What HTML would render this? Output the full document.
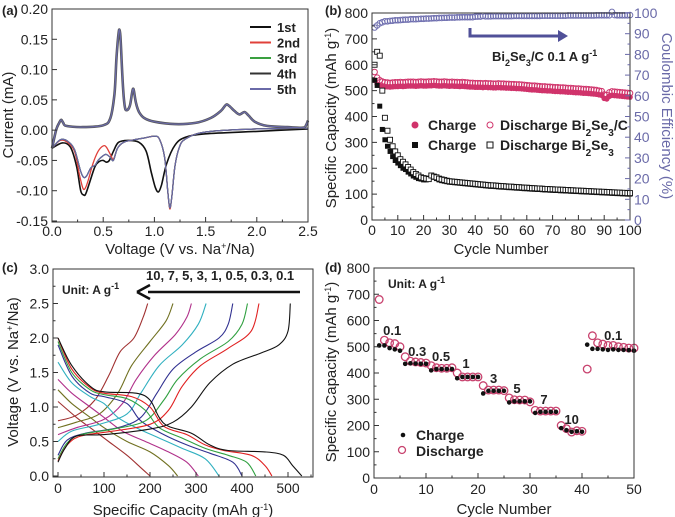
<!DOCTYPE html>
<html><head><meta charset="utf-8"><style>
body{margin:0;background:#fff}
svg{display:block;font-family:"Liberation Sans",Arial,sans-serif}
</style></head><body>
<svg id="fig" width="675" height="517" viewBox="0 0 675 517" xmlns="http://www.w3.org/2000/svg">
<g id="pa"></g>
<g id="pb"></g>
<g id="pc"></g>
<g id="pd"></g>
</svg>
<script>
// ---------- Panel a data ----------
const aAnodicV=[0,0.04,0.07,0.09,0.11,0.14,0.3,0.5,0.57,0.61,0.63,0.65,0.66,0.67,0.69,0.71,0.73,0.76,0.78,0.79,0.8,0.82,0.85,0.9,1.0,1.2,1.4,1.55,1.65,1.7,1.73,1.78,1.83,1.88,1.92,1.98,2.1,2.3,2.45,2.48,2.5];
const aAnodicI=[-0.03,0.0,0.012,0.017,0.012,0.007,0.005,0.008,0.02,0.06,0.12,0.16,0.165,0.15,0.08,0.04,0.033,0.04,0.06,0.068,0.065,0.045,0.03,0.02,0.014,0.01,0.012,0.02,0.032,0.042,0.04,0.032,0.026,0.03,0.024,0.014,0.007,0.005,0.004,0.008,0.016];
const aCath1V=[2.5,2.0,1.5,1.3,1.2,1.12,1.07,1.04,1.01,0.97,0.92,0.85,0.75,0.65,0.6,0.56,0.53,0.5,0.46,0.42,0.37,0.33,0.31,0.28,0.24,0.18,0.1,0];
const aCath1I=[0.002,-0.002,-0.006,-0.012,-0.025,-0.055,-0.09,-0.102,-0.095,-0.07,-0.035,-0.02,-0.017,-0.02,-0.035,-0.05,-0.053,-0.05,-0.052,-0.06,-0.085,-0.105,-0.107,-0.1,-0.06,-0.028,-0.021,-0.03];
const aCath2V=[2.5,2.0,1.5,1.3,1.24,1.2,1.17,1.15,1.13,1.1,1.05,1.0,0.9,0.8,0.7,0.64,0.6,0.57,0.53,0.5,0.45,0.4,0.35,0.32,0.3,0.27,0.22,0.15,0.08,0];
const aCath2I=[0.003,0.002,-0.003,-0.015,-0.03,-0.06,-0.11,-0.13,-0.1,-0.045,-0.015,-0.01,-0.013,-0.016,-0.02,-0.03,-0.048,-0.04,-0.028,-0.026,-0.035,-0.055,-0.085,-0.097,-0.095,-0.075,-0.035,-0.02,-0.017,-0.03];
const aCath5V=[2.5,2.0,1.5,1.3,1.24,1.2,1.17,1.15,1.13,1.1,1.05,1.0,0.9,0.8,0.7,0.64,0.6,0.57,0.53,0.5,0.45,0.42,0.38,0.34,0.31,0.28,0.22,0.15,0.08,0];
const aCath5I=[0.003,0.002,-0.003,-0.015,-0.03,-0.06,-0.11,-0.128,-0.1,-0.045,-0.015,-0.01,-0.013,-0.016,-0.02,-0.03,-0.05,-0.045,-0.04,-0.042,-0.05,-0.058,-0.062,-0.075,-0.078,-0.068,-0.032,-0.018,-0.016,-0.03];
const aLegend=["1st","2nd","3rd","4th","5th"];
const aColors=["#111","#e0403a","#3aa040","#333","#6a6aa8"];

// ---------- Panel b data ----------
const bCCharge=[540,525,520,518,515,515,514,515,516,516,517,516,517,518,518,518,517,518,519,518,518,519,519,520,519,518,518,519,518,517,518,517,517,516,517,516,515,514,514,513,513,513,512,513,512,512,511,511,512,511,511,510,510,509,509,508,508,507,506,505,504,503,503,502,501,500,500,499,499,498,497,497,496,496,495,494,494,493,492,492,491,490,490,489,488,487,486,484,482,470,468,478,482,481,480,479,478,477,476,475];
const bCDis=[572,550,540,535,532,531,530,531,532,532,533,532,533,534,534,534,533,534,535,534,534,535,535,536,535,534,534,535,534,533,534,533,533,532,533,532,531,530,530,529,529,529,528,529,528,528,527,527,528,527,527,526,526,525,525,524,524,523,522,521,520,519,519,518,517,516,516,515,515,514,513,513,512,512,511,510,510,509,508,508,507,506,506,505,504,503,502,500,498,485,483,493,497,496,495,494,493,492,491,490];
const bEff=[93,94,95,95.5,96,96,96.2,96.3,96.5,96.5,96.6,96.7,96.8,96.8,97,97,97,97.1,97.2,97.2,97.3,97.3,97.4,97.5,97.5,97.6,97.6,97.7,97.7,97.8,97.8,97.8,97.9,97.9,98,98,98,98,98,98.2,98.3,98.3,98.6,98.4,98.4,98.4,98.5,98.5,98.5,98.5,98.5,98.5,98.5,98.5,98.6,98.6,98.6,98.6,98.6,98.6,98.6,98.6,98.6,98.6,98.6,98.7,98.7,98.7,98.7,98.7,98.7,98.7,98.7,98.7,98.7,98.8,98.8,98.8,98.8,98.8,98.8,98.8,98.8,98.8,98.8,98.8,98.9,98.9,98.9,98.9,98.9,98.9,100.5,99,98.9,98.9,98.9,98.9,98.9,99];
const bBCharge=[540,520,440,350,310,285,265,245,230,220,210,200,195,185,178,170,165,160,158,155,155,160,168,165,160,155,152,150,148,146,145,144,143,142,141,140,139,138,137,136,135,134,133,132,131,130,130,129,128,127,127,126,125,125,124,123,123,122,121,121,120,119,119,118,118,117,116,116,115,115,114,114,113,113,112,112,111,111,110,110,109,109,108,108,107,107,106,106,105,105,104,104,103,103,102,102,101,101,100,100];
const bBDis=[600,650,635,500,395,345,310,285,265,250,235,225,215,205,195,185,178,172,165,162,160,158,172,168,165,160,157,155,152,150,149,148,147,146,145,144,143,142,141,140,139,138,137,136,135,134,134,133,132,131,131,130,129,129,128,127,127,126,125,125,124,123,123,122,122,121,120,120,119,119,118,118,117,117,116,116,115,115,114,114,113,113,112,112,111,111,110,110,109,109,108,108,107,107,106,106,105,105,104,104];

// ---------- Panel c data ----------
const cColors=["#111","#e02020","#30a040","#303090","#30b0c0","#b0308a","#707020","#a03030"];
const cDisCap=[[0,30,70,100,170,200,220,240,290,330,370,450,490,510,530],[0,30,70,100,160,200,230,280,320,360,420,450,465],[0,30,70,100,150,190,220,270,320,370,410,430],[0,30,70,100,150,180,230,280,330,380,400],[0,30,70,100,130,170,220,270,320,350],[0,30,70,100,140,190,240,280,305],[0,30,70,100,150,200,240,260],[0,40,80,110,150,180,200]];
const cDisV=[[2.0,1.6,1.3,1.22,1.2,1.1,0.85,0.72,0.62,0.45,0.37,0.35,0.3,0.15,0],[2.0,1.55,1.28,1.2,1.15,1.0,0.72,0.6,0.45,0.37,0.3,0.15,0],[1.95,1.5,1.25,1.18,1.12,0.95,0.7,0.55,0.4,0.3,0.2,0],[1.9,1.45,1.2,1.15,1.05,0.8,0.6,0.45,0.33,0.2,0],[1.65,1.35,1.15,1.05,0.85,0.7,0.55,0.4,0.25,0],[1.4,1.2,1.0,0.85,0.65,0.5,0.35,0.2,0],[1.25,1.05,0.85,0.7,0.5,0.35,0.15,0],[1.08,0.85,0.65,0.5,0.3,0.12,0]];
const cChCap=[[0,15,40,100,200,250,290,330,380,440,480,500,505],[0,20,50,120,200,240,270,310,370,420,437],[0,20,50,120,190,230,260,310,370,400,412],[0,20,60,130,180,215,250,300,350,370,380],[0,30,90,150,180,220,270,305,322],[0,40,100,140,170,210,255,280,290],[0,40,90,130,160,200,235,250],[0,40,80,110,135,165,185,195]];
const cChV=[[0.2,0.4,0.58,0.6,0.68,0.78,1.0,1.35,1.62,1.78,1.9,2.1,2.5],[0.22,0.45,0.58,0.65,0.75,0.95,1.3,1.6,1.85,2.1,2.5],[0.25,0.48,0.6,0.68,0.8,1.1,1.4,1.7,1.95,2.2,2.5],[0.3,0.52,0.62,0.7,0.85,1.2,1.55,1.8,2.0,2.2,2.5],[0.5,0.65,0.75,0.9,1.2,1.6,1.9,2.2,2.5],[0.6,0.7,0.82,1.05,1.4,1.75,2.05,2.3,2.5],[0.7,0.78,0.9,1.2,1.6,1.95,2.25,2.5],[0.8,0.88,1.1,1.45,1.8,2.0,2.3,2.5]];

// ---------- Panel d data ----------
const dDis=[680,525,515,512,500,462,445,442,440,438,428,420,418,418,420,400,385,385,385,385,352,335,335,335,333,305,298,297,297,290,258,255,255,255,255,200,188,175,180,178,415,542,515,510,505,505,500,498,495,495];
const dCh=[505,505,495,490,485,435,437,436,435,435,410,415,415,415,415,380,385,385,385,385,322,332,332,332,332,288,292,292,292,292,248,252,252,252,252,190,182,176,178,176,508,492,492,490,488,490,488,488,487,485];
const dRates=["0.1","0.3","0.5","1","3","5","7","10","0.1"];
const dRateX=[3.5,8.3,12.9,17.7,23,27.5,32.7,38,46];
const dRateY=[545,465,446,419,362,324,282,206,526];

// ---------- helpers ----------
const NS="http://www.w3.org/2000/svg";
function el(parent,tag,attrs,text){const e=document.createElementNS(NS,tag);for(const k in attrs)e.setAttribute(k,attrs[k]);if(text!==undefined)e.textContent=text;parent.appendChild(e);return e;}
function lin(d0,d1,r0,r1){return v=>r0+(v-d0)*(r1-r0)/(d1-d0);}
function frame(g,x0,y0,x1,y1,name){const r=el(g,'rect',{x:x0,y:y0,width:x1-x0,height:y1-y0,fill:'none',stroke:'#333','stroke-width':1});}
function xTicks(g,sx,y0,y1,vals,labels,minor,ly){
  minor.forEach(v=>{el(g,'line',{x1:sx(v),x2:sx(v),y1:y1,y2:y1-2.5,stroke:'#333'});});
  vals.forEach((v,i)=>{el(g,'line',{x1:sx(v),x2:sx(v),y1:y1,y2:y1-5,stroke:'#333'});
    const t=el(g,'text',{x:sx(v),y:ly,'font-size':14,'text-anchor':'middle',fill:'#222'},labels[i]);
    });
}
function yTicks(g,sy,x0,vals,labels,minor,right,color){
  const d=right?-1:1;color=color||'#333';
  minor.forEach(v=>{el(g,'line',{x1:x0,x2:x0+2.5*d,y1:sy(v),y2:sy(v),stroke:color});});
  vals.forEach((v,i)=>{el(g,'line',{x1:x0,x2:x0+5*d,y1:sy(v),y2:sy(v),stroke:color});
    const t=el(g,'text',{x:right?x0+4:x0-4,y:sy(v)+5,'font-size':14,'text-anchor':right?'start':'end',fill:right?'#6a6aa8':'#222'},labels[i]);
    });
}
function path(g,xs,ys,sx,sy,color,w,name){
  const P=xs.map((x,i)=>[sx(x),sy(ys[i])]);
  let d='M'+P[0][0].toFixed(1)+','+P[0][1].toFixed(1);
  for(let i=0;i<P.length-1;i++){const p0=P[Math.max(0,i-1)],p1=P[i],p2=P[i+1],p3=P[Math.min(P.length-1,i+2)];
    const c1=[p1[0]+(p2[0]-p0[0])/6,p1[1]+(p2[1]-p0[1])/6],c2=[p2[0]-(p3[0]-p1[0])/6,p2[1]-(p3[1]-p1[1])/6];
    d+='C'+c1[0].toFixed(1)+','+c1[1].toFixed(1)+' '+c2[0].toFixed(1)+','+c2[1].toFixed(1)+' '+p2[0].toFixed(1)+','+p2[1].toFixed(1);}
  const p=el(g,'path',{d:d,fill:'none',stroke:color,'stroke-width':w,'stroke-linejoin':'round'});return p;}
function range(a,b,s){const r=[];for(let v=a;v<=b+1e-9;v+=s)r.push(+v.toFixed(4));return r;}
function label(g,x,y,txt,name,size,weight,anchor,rot){const a={x:x,y:y,'font-size':size||14,'font-weight':weight||'normal','text-anchor':anchor||'start',fill:'#222'};if(rot)a.transform=rot;const t=el(g,'text',a);t.innerHTML=txt;return t;}

// ---------- Panel a ----------
(function(){const g=document.getElementById('pa');
 const sx=lin(0,2.5,52,308), sy=lin(-0.15,0.20,221,9);
 path(g,aCath1V,aCath1I,sx,sy,aColors[0],1.6,'cv-cycle1-cathodic');
 path(g,aCath2V,aCath2I,sx,sy,aColors[1],1.3,'cv-cycle2-cathodic');
 path(g,aCath5V,aCath5I,sx,sy,aColors[2],1.2,'cv-cycle3-cathodic');
 path(g,aCath5V,aCath5I,sx,sy,aColors[3],1.2,'cv-cycle4-cathodic');
 path(g,aCath5V,aCath5I,sx,sy,aColors[4],1.2,'cv-cycle5-cathodic');
 path(g,aAnodicV,aAnodicI,sx,sy,'#555',2.6,'cv-anodic-cycles');
 path(g,aAnodicV,aAnodicI,sx,sy,aColors[4],1.2,'cv-anodic-cycle5');
 frame(g,52,9,308,222,'plot-frame-a');
 xTicks(g,sx,9,222,range(0,2.5,0.5),["0.0","0.5","1.0","1.5","2.0","2.5"],range(0.25,2.25,0.5),236);
 const yv=range(-0.15,0.2,0.05);yTicks(g,sy,52,yv,["-0.15","-0.10","-0.05","0.00","0.05","0.10","0.15","0.20"],[]);
 aLegend.forEach((n,i)=>{const y=27+i*15.5;const l=el(g,'line',{x1:250,x2:271,y1:y,y2:y,stroke:aColors[i],'stroke-width':2});
   label(g,277,y+5,n,'legend-entry-'+n,13,'bold');});
 label(g,180,254,'Voltage (V vs. Na<tspan baseline-shift="super" font-size="9">+</tspan>/Na)','x-axis-title-a',15,'normal','middle');
 label(g,0,0,'Current (mA)','y-axis-title-a',15,'normal','middle','translate(13,115) rotate(-90)');
 label(g,2,15,'(a)','panel-label-a',13,'bold');
})();

// ---------- Panel b ----------
(function(){const g=document.getElementById('pb');
 const sx=lin(0,100,372,630), sy=lin(0,800,220,13), sr=lin(0,100,220,13);
 bEff.forEach((v,i)=>{const c=el(g,'circle',{cx:sx(i+1),cy:sr(v),r:2.8,fill:'none',stroke:'#7070b0','stroke-width':1});});
 bCDis.forEach((v,i)=>{const c=el(g,'circle',{cx:sx(i+1),cy:sy(v),r:2.8,fill:'none',stroke:'#d0336b','stroke-width':1});});
 bCCharge.forEach((v,i)=>{const c=el(g,'circle',{cx:sx(i+1),cy:sy(v),r:2.8,fill:'#d0336b'});});
 bBCharge.forEach((v,i)=>{const c=el(g,'rect',{x:sx(i+1)-2.5,y:sy(v)-2.5,width:5,height:5,fill:'#111'});});
 bBDis.forEach((v,i)=>{const c=el(g,'rect',{x:sx(i+1)-2.5,y:sy(v)-2.5,width:5,height:5,fill:'#fff',stroke:'#111','stroke-width':0.9});});
 frame(g,372,13,630,220,'plot-frame-b');
 xTicks(g,sx,13,220,range(0,100,10),range(0,100,10).map(String),range(5,95,10),235);
 yTicks(g,sy,372,range(0,800,100),range(0,800,100).map(String),range(50,750,100));
 yTicks(g,sr,630,range(0,100,10),range(0,100,10).map(String),range(5,95,10),true,'#6a6aa8');
 const ar=el(g,'path',{d:'M470,28 L470,36 L562,36',fill:'none',stroke:'#505098','stroke-width':3});
 el(g,'path',{d:'M568,36 L558,30 L558,42 Z',fill:'#505098'});
 label(g,492,61,'Bi<tspan baseline-shift="sub" font-size="9">2</tspan>Se<tspan baseline-shift="sub" font-size="9">3</tspan>/C 0.1 A g<tspan baseline-shift="super" font-size="9">-1</tspan>','annotation-bi2se3c',13,'bold');
 el(g,'circle',{cx:415,cy:125,r:3.5,fill:'#d0336b'});
 label(g,428,130,'Charge','legend-entry-charge-c',14,'bold');
 el(g,'circle',{cx:490,cy:125,r:3,fill:'none',stroke:'#d0336b'});
 label(g,500,130,'Discharge Bi<tspan baseline-shift="sub" font-size="10">2</tspan>Se<tspan baseline-shift="sub" font-size="10">3</tspan>/C','legend-entry-discharge-c',14,'bold');
 el(g,'rect',{x:412,y:142,width:6,height:6,fill:'#111'});
 label(g,428,150,'Charge','legend-entry-charge',14,'bold');
 el(g,'rect',{x:487,y:142,width:6,height:6,fill:'#fff',stroke:'#111'});
 label(g,500,150,'Discharge Bi<tspan baseline-shift="sub" font-size="10">2</tspan>Se<tspan baseline-shift="sub" font-size="10">3</tspan>','legend-entry-discharge',14,'bold');
 label(g,501,254,'Cycle Number','x-axis-title-b',15,'normal','middle');
 label(g,0,0,'Specific Capacity (mAh g<tspan baseline-shift="super" font-size="9">-1</tspan>)','y-axis-title-b',15,'normal','middle','translate(336,118) rotate(-90)');
 const rt=label(g,0,0,'Coulombic Efficiency (%)','y-axis-title-right-b',15,'normal','middle','translate(662,116) rotate(90)');rt.setAttribute('fill','#6a6aa8');
 label(g,325,15,'(b)','panel-label-b',13,'bold');
})();

// ---------- Panel c ----------
(function(){const g=document.getElementById('pc');
 const sx=lin(0,500,58,288), sy=lin(0,3,476,269);
 for(let i=cColors.length-1;i>=0;i--){path(g,cDisCap[i],cDisV[i],sx,sy,cColors[i],1.1,'discharge-curve-'+i);path(g,cChCap[i],cChV[i],sx,sy,cColors[i],1.1,'charge-curve-'+i);}
 frame(g,53,269,313,477,'plot-frame-c');
 xTicks(g,sx,269,477,range(0,500,100),range(0,500,100).map(String),range(50,550,100).filter(v=>sx(v)<313),493);
 yTicks(g,sy,53,range(0,3,0.5),["0.0","0.5","1.0","1.5","2.0","2.5","3.0"],range(0.25,2.75,0.5));
 const ar=el(g,'line',{x1:300,y1:292,x2:148,y2:292,stroke:'#111','stroke-width':2.5});
 el(g,'path',{d:'M137,292 L150,285 M137,292 L150,299',stroke:'#111','stroke-width':2.5,fill:'none'});
 label(g,146,280,'10, 7, 5, 3, 1, 0.5, 0.3, 0.1','rates-annotation',13,'bold');
 label(g,62,294,'Unit: A g<tspan baseline-shift="super" font-size="9">-1</tspan>','unit-annotation-c',12,'bold');
 label(g,183,515,'Specific Capacity (mAh g<tspan baseline-shift="super" font-size="9">-1</tspan>)','x-axis-title-c',15,'normal','middle');
 label(g,0,0,'Voltage (V vs. Na<tspan baseline-shift="super" font-size="9">+</tspan>/Na)','y-axis-title-c',15,'normal','middle','translate(18,372) rotate(-90)');
 label(g,2,272,'(c)','panel-label-c',13,'bold');
})();

// ---------- Panel d ----------
(function(){const g=document.getElementById('pd');
 const sx=lin(0,50,374,634), sy=lin(0,800,478,268);
 dDis.forEach((v,i)=>{const c=el(g,'circle',{cx:sx(i+1),cy:sy(v),r:3.8,fill:'none',stroke:'#c8426e','stroke-width':1.3});});
 dCh.forEach((v,i)=>{const c=el(g,'circle',{cx:sx(i+1),cy:sy(v),r:2.3,fill:'#111'});});
 frame(g,374,268,634,478,'plot-frame-d');
 xTicks(g,sx,268,478,range(0,50,10),range(0,50,10).map(String),range(5,45,10),494);
 yTicks(g,sy,374,range(0,800,100),range(0,800,100).map(String),range(50,750,100));
 dRates.forEach((r,i)=>label(g,sx(dRateX[i]),sy(dRateY[i]),r,'rate-label-'+i,13,'bold','middle'));
 label(g,388,288,'Unit: A g<tspan baseline-shift="super" font-size="9">-1</tspan>','unit-annotation-d',12,'bold');
 el(g,'circle',{cx:403,cy:435,r:2.3,fill:'#111'});
 label(g,416,440,'Charge','legend-entry-charge-d',14,'bold');
 el(g,'circle',{cx:402,cy:450,r:3.5,fill:'none',stroke:'#c8426e','stroke-width':1.3});
 label(g,416,456,'Discharge','legend-entry-discharge-d',14,'bold');
 label(g,504,514,'Cycle Number','x-axis-title-d',15,'normal','middle');
 label(g,0,0,'Specific Capacity (mAh g<tspan baseline-shift="super" font-size="9">-1</tspan>)','y-axis-title-d',15,'normal','middle','translate(336,372) rotate(-90)');
 label(g,325,272,'(d)','panel-label-d',13,'bold');
})();
</script>
</body></html>
